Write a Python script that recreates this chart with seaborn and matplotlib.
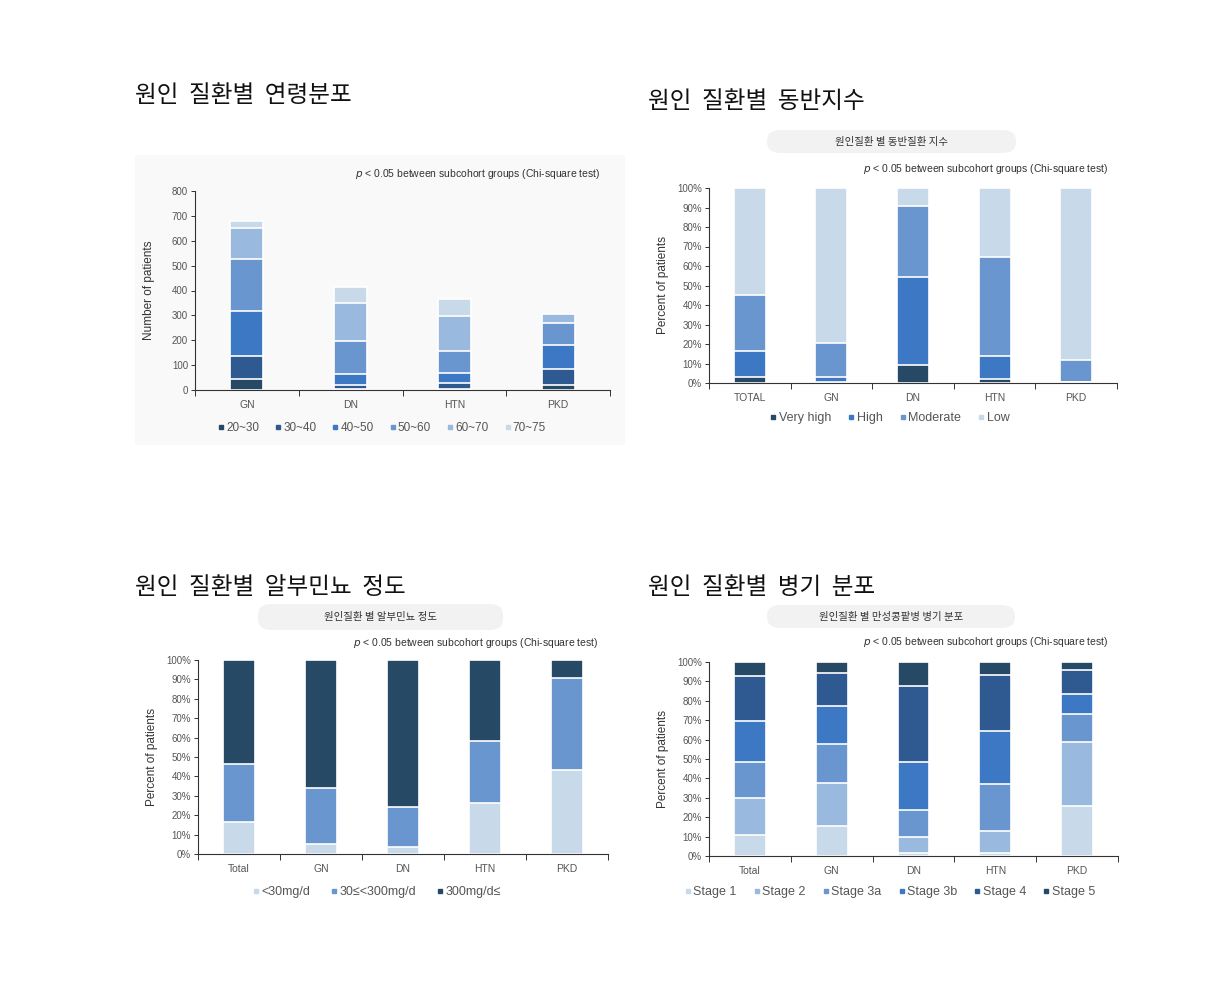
import numpy as np
import pandas as pd
import matplotlib
matplotlib.use("Agg")
import matplotlib.pyplot as plt
from matplotlib.patches import FancyBboxPatch, Rectangle
from matplotlib.lines import Line2D
import seaborn as sns

sns.set_theme(style="white")
plt.rcParams['font.family'] = ['Liberation Sans', 'Noto Sans CJK KR', 'DejaVu Sans']

# ---------------- data ----------------
age_cats = ["GN", "DN", "HTN", "PKD"]
age_groups = ["20~30", "30~40", "40~50", "50~60", "60~70", "70~75"]
age_20_30 = [43, 3, 5, 19]
age_30_40 = [94, 16, 22, 66]
age_40_50 = [180, 44, 40, 95]
age_50_60 = [210, 135, 89, 89]
age_60_70 = [124, 152, 142, 35]
age_70_75 = [27, 63, 69, 0]

cci_cats = ["TOTAL", "GN", "DN", "HTN", "PKD"]
cci_groups = ["Very high", "High", "Moderate", "Low"]
cci_very_high = [3.1, 0.5, 9.2, 2.0, 0.3]
cci_high = [13.4, 2.6, 45.0, 11.8, 0.4]
cci_moderate = [28.6, 17.3, 36.6, 50.6, 11.1]
cci_low = [54.9, 79.6, 9.2, 35.6, 88.2]

alb_cats = ["Total", "GN", "DN", "HTN", "PKD"]
alb_groups = ["<30mg/d", "30≤<300mg/d", "300mg/d≤"]
alb_lt30 = [16.3, 5.2, 3.8, 26.5, 43.3]
alb_30_300 = [30.1, 28.8, 20.4, 31.7, 47.4]
alb_ge300 = [53.6, 66.0, 75.8, 41.8, 9.3]

stg_cats = ["Total", "GN", "DN", "HTN", "PKD"]
stg_groups = ["Stage 1", "Stage 2", "Stage 3a", "Stage 3b", "Stage 4", "Stage 5"]
stg_1 = [11.0, 15.5, 1.4, 1.4, 25.8]
stg_2 = [19.1, 22.3, 8.6, 11.3, 33.0]
stg_3a = [18.4, 20.1, 13.5, 24.2, 14.6]
stg_3b = [21.3, 19.4, 25.1, 27.7, 10.1]
stg_4 = [23.0, 17.2, 39.0, 28.9, 12.5]
stg_5 = [7.2, 5.5, 12.4, 6.5, 4.0]

C_VDARK = "#264a66"
C_DARK = "#2e5a91"
C_MID = "#3c78c3"
C_MED = "#6a96cf"
C_LIGHT = "#9ab9df"
C_VLIGHT = "#c8d9ea"

W, H = 1222, 993
fig = plt.figure(figsize=(W / 100, H / 100), dpi=100)
fig.patch.set_facecolor("white")

def fx(x):
    return x / W

def fy(y):
    return 1 - y / H

def make_ax(x0, x1, ytop, ybot):
    ax = fig.add_axes([fx(x0), fy(ybot), fx(x1) - fx(x0), fy(ytop) - fy(ybot)])
    ax.set_zorder(2)
    return ax

GRAY = "#555555"

def stacked(ax, cats, series, colors, width, ymax, yticks, ylabels, ylabel, labelpad=5):
    cum = np.cumsum(np.array(series, dtype=float), axis=0)
    for i in range(len(series) - 1, -1, -1):
        df = pd.DataFrame({"cat": cats, "val": cum[i]})
        sns.barplot(data=df, x="cat", y="val", order=cats, color=colors[i],
                    saturation=1, width=width, edgecolor="white", linewidth=1.2,
                    ax=ax, errorbar=None)
    ax.set_xlim(-0.5, len(cats) - 0.5)
    ax.set_ylim(0, ymax)
    ax.set_yticks(yticks)
    ax.set_yticklabels(ylabels)
    ax.set_xlabel("")
    ax.set_ylabel(ylabel, fontsize=8.5, color="#333333", labelpad=labelpad)
    ax.set_facecolor("none")
    for s in ["top", "right"]:
        ax.spines[s].set_visible(False)
    for s in ["left", "bottom"]:
        ax.spines[s].set_color("#333333")
        ax.spines[s].set_linewidth(0.8)
    ax.tick_params(axis="y", which="major", direction="out", length=3, width=0.7,
                   colors="#333333", labelsize=7, labelcolor=GRAY, pad=2, left=True)
    ax.tick_params(axis="x", which="major", length=0, labelsize=7.5, labelcolor=GRAY, pad=7)
    ax.set_xticks(np.arange(-0.5, len(cats) - 0.4, 1.0), minor=True)
    ax.tick_params(axis="x", which="minor", direction="out", length=4, width=0.7,
                   colors="#333333", bottom=True)

def legend(labels, colors, cx, cy, fs=8.5, spacing=1.2):
    handles = [Line2D([0], [0], marker="s", linestyle="", markersize=3.5,
                      markerfacecolor=c, markeredgecolor=c) for c in colors]
    fig.legend(handles, labels, loc="center", bbox_to_anchor=(fx(cx), fy(cy)),
               ncol=len(labels), frameon=False, fontsize=fs, labelcolor=GRAY,
               handletextpad=0.05, columnspacing=spacing, handlelength=0.8)

def pill(text, x0, x1, y0, y1):
    p = FancyBboxPatch((fx(x0), fy(y1)), fx(x1) - fx(x0), fy(y0) - fy(y1),
                       boxstyle="round,pad=0,rounding_size=0.011",
                       transform=fig.transFigure, facecolor="#f2f2f2",
                       edgecolor="none", zorder=-1)
    fig.patches.append(p)
    fig.text(fx((x0 + x1) / 2), fy((y0 + y1) / 2), text, ha="center", va="center",
             fontsize=7.5, color="#333333", family=['Noto Sans CJK KR', 'DejaVu Sans'])

def ptext(xr, y):
    fig.text(fx(xr), fy(y), r"$p$ < 0.05 between subcohort groups (Chi-square test)",
             ha="right", va="center", fontsize=7.5, color="#333333", zorder=3)

def title(text, x, y):
    fig.text(fx(x), fy(y), text, ha="left", va="center", fontsize=17,
             color="#111111", family=['Noto Sans CJK KR', 'DejaVu Sans'])

pct_ticks = list(range(0, 101, 10))
pct_labels = [f"{t}%" for t in pct_ticks]

# ---------------- panel 1 ----------------
bg = Rectangle((fx(135), fy(445)), fx(625) - fx(135), fy(155) - fy(445),
               transform=fig.transFigure, facecolor="#f9f9f9", edgecolor="none", zorder=-1)
fig.patches.append(bg)
title("원인  질환별  연령분포", 135, 96)
ax1 = make_ax(195, 610, 191, 390)
stacked(ax1, age_cats, [age_20_30, age_30_40, age_40_50, age_50_60, age_60_70, age_70_75],
        [C_VDARK, C_DARK, C_MID, C_MED, C_LIGHT, C_VLIGHT], 0.32, 800,
        list(range(0, 801, 100)), [str(v) for v in range(0, 801, 100)], "Number of patients",
        labelpad=12)
ptext(600, 174)
legend(age_groups, [C_VDARK, C_DARK, C_MID, C_MED, C_LIGHT, C_VLIGHT], 381, 428)

# ---------------- panel 2 ----------------
title("원인  질환별  동반지수", 648, 102)
pill("원인질환 별 동반질환 지수", 767, 1016, 130, 153)
ptext(1108, 169)
ax2 = make_ax(709, 1117, 188, 383)
stacked(ax2, cci_cats, [cci_very_high, cci_high, cci_moderate, cci_low],
        [C_VDARK, C_MID, C_MED, C_VLIGHT], 0.39, 100, pct_ticks, pct_labels,
        "Percent of patients", labelpad=6)
legend(cci_groups, [C_VDARK, C_MID, C_MED, C_VLIGHT], 889, 418, fs=9)

# ---------------- panel 3 ----------------
title("원인  질환별  알부민뇨  정도", 135, 588)
pill("원인질환 별 알부민뇨 정도", 258, 503, 604, 630)
ptext(598, 643)
ax3 = make_ax(198, 608, 660, 854)
stacked(ax3, alb_cats, [alb_lt30, alb_30_300, alb_ge300],
        [C_VLIGHT, C_MED, C_VDARK], 0.39, 100, pct_ticks, pct_labels,
        "Percent of patients", labelpad=6)
legend(alb_groups, [C_VLIGHT, C_MED, C_VDARK], 376, 892, fs=9, spacing=1.5)

# ---------------- panel 4 ----------------
title("원인  질환별  병기  분포", 648, 587)
pill("원인질환 별 만성콩팥병 병기 분포", 767, 1015, 605, 628)
ptext(1108, 642)
ax4 = make_ax(709, 1118, 662, 856)
stacked(ax4, stg_cats, [stg_1, stg_2, stg_3a, stg_3b, stg_4, stg_5],
        [C_VLIGHT, C_LIGHT, C_MED, C_MID, C_DARK, C_VDARK], 0.39, 100, pct_ticks,
        pct_labels, "Percent of patients", labelpad=6)
legend(stg_groups, [C_VLIGHT, C_LIGHT, C_MED, C_MID, C_DARK, C_VDARK], 889, 892, fs=9)

fig.savefig("out.png", dpi=100, facecolor="white")
